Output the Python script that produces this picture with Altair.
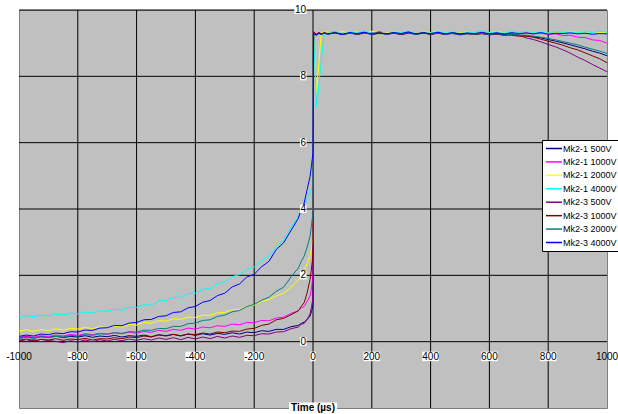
import altair as alt
import pandas as pd

# ---------------- data ----------------
T_NEG = [-1000, -975, -950, -925, -900, -875, -850, -825, -800, -775,
         -750, -725, -700, -675, -650, -625, -600, -575, -550, -525,
         -500, -475, -450, -425, -400, -375, -350, -325, -300, -275,
         -250, -225, -200, -175, -150, -125, -100, -75, -50,
         -40, -30, -20, -10, -5, 0]
T_POS = [2, 12, 20, 28, 38,
         50, 75, 100, 125, 150, 175, 200, 225, 250, 275,
         300, 325, 350, 375, 400, 425, 450, 475, 500, 525,
         550, 575, 600, 625, 650, 675, 700, 725, 750, 775,
         800, 825, 850, 875, 900, 925, 950, 975, 1000]

SERIES = ["Mk2-1 500V", "Mk2-1 1000V", "Mk2-1 2000V", "Mk2-1 4000V",
          "Mk2-3 500V", "Mk2-3 1000V", "Mk2-3 2000V", "Mk2-3 4000V"]
COLORS = ["#000080", "#FF00FF", "#FFFF00", "#00FFFF",
          "#800080", "#800000", "#008080", "#0000FF"]

# Mk2-1 500V (navy)
NAVY_NEG = [0.12, 0.16, 0.11, 0.15, 0.13, 0.17, 0.12, 0.16, 0.14, 0.18,
            0.13, 0.17, 0.15, 0.19, 0.14, 0.18, 0.16, 0.20, 0.15, 0.21,
            0.18, 0.22, 0.17, 0.23, 0.19, 0.24, 0.20, 0.25, 0.22, 0.27,
            0.23, 0.29, 0.27, 0.33, 0.31, 0.37, 0.37, 0.45, 0.49,
            0.55, 0.59, 0.67, 0.77, 0.91, 1.10]
NAVY_POS = [9.30, 9.27, 9.31, 9.28, 9.32,
            9.29, 9.33, 9.27, 9.31, 9.28, 9.32, 9.29, 9.33, 9.27, 9.30,
            9.28, 9.32, 9.29, 9.31, 9.27, 9.32, 9.28, 9.30, 9.27, 9.31,
            9.28, 9.29, 9.26, 9.28, 9.25, 9.27, 9.24, 9.23, 9.19, 9.16,
            9.11, 9.06, 9.01, 8.95, 8.89, 8.83, 8.76, 8.70, 8.62]

# Mk2-1 1000V (magenta)
MAG_NEG = [0.12, 0.17, 0.13, 0.18, 0.15, 0.20, 0.17, 0.22, 0.19, 0.24,
           0.21, 0.25, 0.22, 0.27, 0.24, 0.29, 0.25, 0.31, 0.28, 0.34,
           0.31, 0.37, 0.34, 0.41, 0.38, 0.44, 0.42, 0.48, 0.46, 0.53,
           0.51, 0.58, 0.57, 0.64, 0.63, 0.71, 0.74, 0.85, 0.93,
           1.02, 1.06, 1.22, 1.38, 1.62, 2.00]
MAG_POS = [9.31, 9.28, 9.32, 9.29, 9.33,
           9.30, 9.34, 9.28, 9.32, 9.29, 9.33, 9.30, 9.35, 9.29, 9.32,
           9.30, 9.34, 9.28, 9.32, 9.30, 9.33, 9.29, 9.32, 9.30, 9.34,
           9.29, 9.32, 9.30, 9.33, 9.29, 9.31, 9.28, 9.31, 9.28, 9.30,
           9.27, 9.28, 9.23, 9.24, 9.18, 9.17, 9.10, 9.08, 9.00]

# Mk2-1 2000V (yellow)
YEL_NEG = [0.32, 0.36, 0.31, 0.37, 0.34, 0.39, 0.35, 0.40, 0.38, 0.43,
           0.39, 0.45, 0.42, 0.47, 0.44, 0.52, 0.50, 0.58, 0.56, 0.63,
           0.62, 0.69, 0.67, 0.74, 0.73, 0.80, 0.79, 0.87, 0.88, 0.96,
           0.97, 1.07, 1.10, 1.21, 1.27, 1.38, 1.46, 1.63, 1.86,
           2.02, 2.13, 2.36, 2.58, 2.82, 3.15]
YEL_POS = [9.33, 7.50, 8.40, 9.30, 9.34,
           9.33, 9.30, 9.35, 9.31, 9.34, 9.29, 9.36, 9.32, 9.30, 9.35,
           9.31, 9.33, 9.29, 9.34, 9.32, 9.37, 9.30, 9.33, 9.31, 9.35,
           9.30, 9.34, 9.32, 9.36, 9.31, 9.33, 9.29, 9.35, 9.32, 9.34,
           9.30, 9.33, 9.31, 9.36, 9.32, 9.34, 9.30, 9.33, 9.32]

# Mk2-1 4000V (cyan)
CYA_NEG = [0.74, 0.79, 0.75, 0.80, 0.78, 0.83, 0.80, 0.86, 0.84, 0.89,
           0.87, 0.93, 0.92, 0.98, 0.95, 1.04, 1.03, 1.12, 1.09, 1.22,
           1.24, 1.33, 1.34, 1.45, 1.46, 1.58, 1.60, 1.75, 1.80, 1.96,
           2.02, 2.18, 2.25, 2.45, 2.58, 2.85, 3.05, 3.45, 3.78,
           3.97, 4.08, 4.32, 4.48, 4.62, 4.70]
CYA_POS = [9.32, 7.08, 7.75, 8.45, 9.28,
           9.30, 9.34, 9.29, 9.33, 9.31, 9.36, 9.30, 9.33, 9.28, 9.34,
           9.31, 9.35, 9.29, 9.33, 9.30, 9.36, 9.31, 9.34, 9.29, 9.33,
           9.32, 9.37, 9.31, 9.34, 9.30, 9.35, 9.32, 9.36, 9.31, 9.34,
           9.30, 9.35, 9.32, 9.34, 9.31, 9.35, 9.32, 9.36, 9.33]

# Mk2-3 500V (purple)
PUR_NEG = [0.05, 0.01, 0.06, 0.00, 0.04, 0.01, -0.03, 0.03, -0.01, 0.05,
           0.00, 0.06, 0.02, 0.07, 0.03, 0.08, 0.04, 0.09, 0.05, 0.11,
           0.07, 0.12, 0.06, 0.13, 0.08, 0.14, 0.09, 0.16, 0.11, 0.17,
           0.13, 0.19, 0.18, 0.24, 0.23, 0.29, 0.30, 0.39, 0.44,
           0.52, 0.55, 0.66, 0.84, 1.06, 1.30]
PUR_POS = [9.28, 9.24, 9.30, 9.26, 9.31,
           9.27, 9.31, 9.26, 9.30, 9.27, 9.32, 9.26, 9.30, 9.28, 9.31,
           9.26, 9.30, 9.27, 9.31, 9.26, 9.30, 9.27, 9.29, 9.25, 9.28,
           9.26, 9.29, 9.28, 9.30, 9.27, 9.28, 9.24, 9.16, 9.11, 9.04,
           8.96, 8.89, 8.80, 8.70, 8.58, 8.48, 8.36, 8.25, 8.14]

# Mk2-3 1000V (maroon)
MAR_NEG = [0.04, 0.08, 0.03, 0.07, 0.05, 0.09, 0.04, 0.08, 0.06, 0.10,
           0.05, 0.09, 0.08, 0.12, 0.09, 0.14, 0.12, 0.17, 0.14, 0.20,
           0.17, 0.22, 0.18, 0.23, 0.21, 0.26, 0.23, 0.29, 0.27, 0.32,
           0.31, 0.38, 0.40, 0.49, 0.53, 0.66, 0.70, 0.81, 0.93,
           1.06, 1.18, 1.47, 1.88, 2.22, 2.60]
MAR_POS = [9.35, 9.26, 9.32, 9.28, 9.31,
           9.28, 9.32, 9.27, 9.31, 9.26, 9.30, 9.28, 9.33, 9.27, 9.30,
           9.26, 9.31, 9.28, 9.32, 9.27, 9.30, 9.26, 9.31, 9.28, 9.30,
           9.27, 9.29, 9.25, 9.27, 9.24, 9.24, 9.21, 9.21, 9.18, 9.12,
           9.06, 9.00, 8.94, 8.86, 8.80, 8.71, 8.62, 8.53, 8.41]

# Mk2-3 2000V (teal)
TEA_NEG = [0.09, 0.13, 0.10, 0.15, 0.12, 0.16, 0.14, 0.19, 0.17, 0.21,
           0.19, 0.24, 0.23, 0.27, 0.25, 0.30, 0.29, 0.35, 0.34, 0.40,
           0.39, 0.46, 0.46, 0.54, 0.56, 0.64, 0.66, 0.76, 0.80, 0.90,
           0.94, 1.06, 1.12, 1.25, 1.34, 1.52, 1.64, 1.95, 2.22,
           2.42, 2.58, 2.85, 3.18, 3.52, 3.90]
TEA_POS = [9.27, 9.24, 9.29, 9.26, 9.30,
           9.27, 9.31, 9.26, 9.30, 9.28, 9.32, 9.26, 9.30, 9.27, 9.31,
           9.28, 9.32, 9.26, 9.30, 9.28, 9.31, 9.27, 9.30, 9.26, 9.29,
           9.27, 9.30, 9.26, 9.29, 9.25, 9.27, 9.24, 9.24, 9.21, 9.18,
           9.14, 9.10, 9.05, 9.00, 8.95, 8.88, 8.82, 8.76, 8.69]

# Mk2-3 4000V (blue)
BLU_NEG = [0.16, 0.20, 0.17, 0.23, 0.21, 0.26, 0.24, 0.30, 0.29, 0.35,
           0.34, 0.41, 0.42, 0.49, 0.48, 0.56, 0.58, 0.66, 0.67, 0.76,
           0.78, 0.88, 0.90, 1.02, 1.06, 1.19, 1.24, 1.39, 1.46, 1.65,
           1.74, 1.95, 2.03, 2.26, 2.42, 2.78, 2.98, 3.35, 3.72,
           3.98, 4.18, 4.58, 4.98, 5.32, 5.70]
BLU_POS = [9.28, 9.25, 9.30, 9.27, 9.31,
           9.28, 9.31, 9.26, 9.32, 9.29, 9.33, 9.27, 9.30, 9.28, 9.32,
           9.29, 9.34, 9.27, 9.31, 9.29, 9.33, 9.28, 9.32, 9.27, 9.30,
           9.29, 9.33, 9.28, 9.31, 9.27, 9.32, 9.29, 9.31, 9.28, 9.32,
           9.27, 9.30, 9.29, 9.31, 9.28, 9.30, 9.27, 9.29, 9.28]

NEG = [NAVY_NEG, MAG_NEG, YEL_NEG, CYA_NEG, PUR_NEG, MAR_NEG, TEA_NEG, BLU_NEG]
POS = [NAVY_POS, MAG_POS, YEL_POS, CYA_POS, PUR_POS, MAR_POS, TEA_POS, BLU_POS]

X_TICKS = [-1000, -800, -600, -400, -200, 0, 200, 400, 600, 800, 1000]
Y_TICKS = [0, 2, 4, 6, 8, 10]
X_GRID = [-800, -600, -400, -200, 0, 200, 400, 600, 800]
Y_GRID = [0, 2, 4, 6, 8, 10]
X_DOMAIN = [-1000, 1000]
Y_DOMAIN = [-2, 10]
X_TITLE = "Time (µs)"
Y_TITLE = "Voltage (V)"

# ---------------- build tables ----------------
times = T_NEG + T_POS
rows = []
for name, neg, pos in zip(SERIES, NEG, POS):
    vals = neg + pos
    assert len(vals) == len(times), (name, len(neg), len(pos))
    for t, v in zip(times, vals):
        rows.append({"t": t, "v": v, "series": name})
df = pd.DataFrame(rows)

FONT = "Liberation Sans"
xs = alt.Scale(domain=X_DOMAIN, nice=False, zero=False)
ys = alt.Scale(domain=Y_DOMAIN, nice=False, zero=False)


def text_w(s):
    return sum(5.56 if c.isdigit() else 3.33 for c in s)


def XE(field="t"):
    return alt.X(f"{field}:Q", scale=xs, axis=None)


def YE(field="v"):
    return alt.Y(f"{field}:Q", scale=ys, axis=None)


# grid lines
vgrid = alt.Chart(pd.DataFrame({"g": X_GRID})).mark_rule(
    color="black", strokeWidth=1).encode(x=XE("g"))
hgrid = alt.Chart(pd.DataFrame({"g": Y_GRID})).mark_rule(
    color="black", strokeWidth=1).encode(y=YE("g"))

lines = alt.Chart(df).mark_line(strokeWidth=1).encode(
    x=XE("t"),
    y=alt.Y("v:Q", scale=ys, axis=alt.Axis(
        grid=False, labels=False, ticks=False, domain=False,
        title=Y_TITLE, titleFont=FONT, titleFontSize=10, titleFontWeight="bold",
        titleColor="black", titleX=-6, titleBaseline="middle")),
    color=alt.Color("series:N", scale=alt.Scale(domain=SERIES, range=COLORS),
                    sort=SERIES,
                    legend=alt.Legend(
                        orient="none", legendX=523, legendY=130, direction="vertical",
                        title=None, fillColor="white", strokeColor="black",
                        padding=2.5, rowPadding=2.43, symbolType="M-1.6,0L1.6,0",
                        symbolSize=100, symbolStrokeWidth=1.5, symbolOffset=3.5,
                        labelOffset=3, labelFont=FONT, labelFontSize=9,
                        labelColor="black", labelLimit=300)),
)


def box_layers(data, left, right, top, bottom):
    """white background boxes behind labels, one layer per box width"""
    out = []
    for lab, grp in data.groupby("label", sort=False):
        l, r = left(lab), right(lab)
        out.append(alt.Chart(grp).mark_rect(
            color="white", xOffset=l, x2Offset=r, yOffset=top, y2Offset=bottom
        ).encode(x=XE("t"), x2="t", y=YE("v"), y2="v"))
    return out


ylab = pd.DataFrame({"t": [0] * len(Y_TICKS), "v": Y_TICKS,
                     "label": [str(v) for v in Y_TICKS]})
xlab = pd.DataFrame({"t": X_TICKS, "v": [0] * len(X_TICKS),
                     "label": [str(t) for t in X_TICKS]})
xlab_inner = xlab[(xlab["t"] > X_DOMAIN[0]) & (xlab["t"] < X_DOMAIN[1])]
ttl = pd.DataFrame({"t": [0], "v": [Y_DOMAIN[0]], "label": [X_TITLE]})

ybox = box_layers(ylab, lambda s: -(7 + text_w(s) + 0.5), lambda s: -6.5, -4.5, 4.0)
xbox = box_layers(xlab_inner, lambda s: -text_w(s) / 2, lambda s: text_w(s) / 2, 10.0, 19.5)
tbox = box_layers(ttl, lambda s: -24, lambda s: 24, -5.5, 7.0)

ytxt = alt.Chart(ylab).mark_text(align="right", baseline="middle", dx=-7, fontSize=10,
                                 font=FONT, color="black").encode(
    x=XE(), y=YE(), text="label:N")
xtxt = alt.Chart(xlab).mark_text(align="center", baseline="middle", dy=15, fontSize=10,
                                 font=FONT, color="black").encode(
    x=XE(), y=YE(), text="label:N")
ttxt = alt.Chart(ttl).mark_text(align="center", baseline="middle", fontSize=10,
                                font=FONT, fontWeight="bold", color="black").encode(
    x=XE(), y=YE(), text="label:N")

chart = alt.layer(vgrid, hgrid, lines, *ybox, ytxt, *xbox, xtxt, *tbox, ttxt).properties(
    width=588, height=398,
    padding={"left": 19, "top": 10, "right": 11, "bottom": 6},
    autosize=alt.AutoSizeParams(type="none"),
    background="white",
).configure_view(
    fill="#C0C0C0", stroke="#808080", strokeWidth=1,
)

chart.save("out.html", embed_options={"renderer": "svg", "actions": False})
